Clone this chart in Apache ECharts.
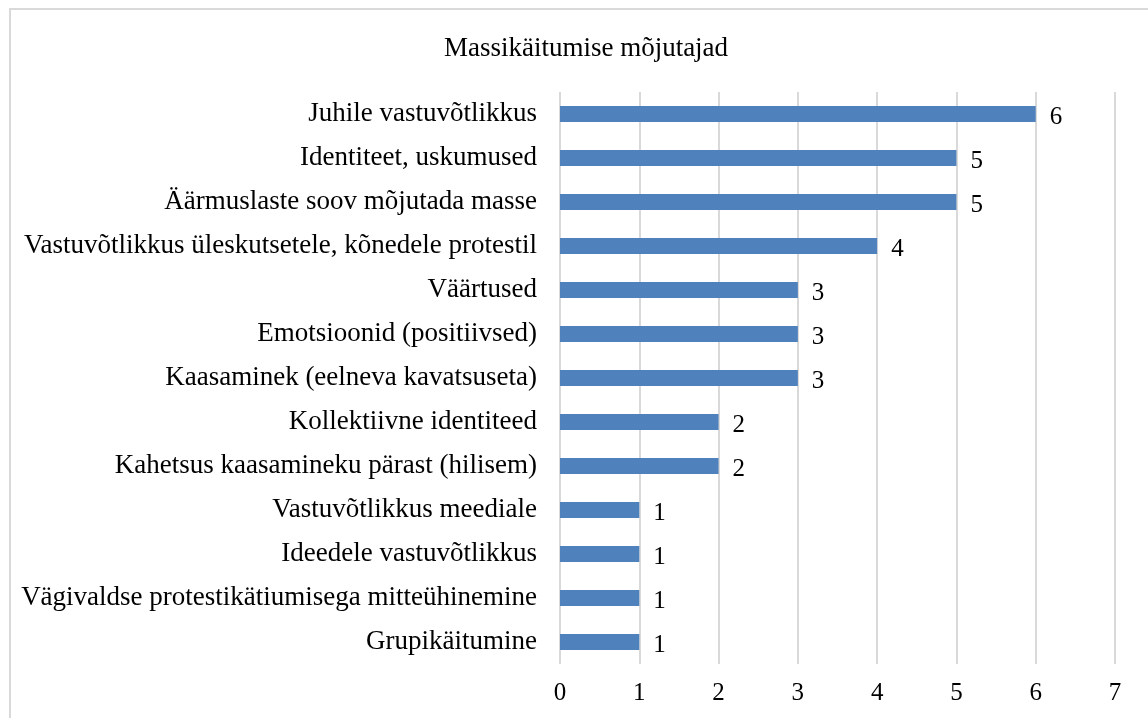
<!DOCTYPE html>
<html>
<head>
<meta charset="utf-8">
<script src="https://cdn.jsdelivr.net/npm/echarts@6/dist/echarts.min.js"></script>
<style>
  html, body { margin: 0; padding: 0; background: #fff; }
  #chart { width: 1148px; height: 718px; }
</style>
</head>
<body>
<div id="chart"></div>
<script>
var categories = [
  "Juhile vastuvõtlikkus",
  "Identiteet, uskumused",
  "Äärmuslaste soov mõjutada masse",
  "Vastuvõtlikkus üleskutsetele, kõnedele protestil",
  "Väärtused",
  "Emotsioonid (positiivsed)",
  "Kaasaminek (eelneva kavatsuseta)",
  "Kollektiivne identiteed",
  "Kahetsus kaasamineku pärast (hilisem)",
  "Vastuvõtlikkus meediale",
  "Ideedele vastuvõtlikkus",
  "Vägivaldse protestikätiumisega mitteühinemine",
  "Grupikäitumine"
];
var values = [6, 5, 5, 4, 3, 3, 3, 2, 2, 1, 1, 1, 1];

var font = "'Liberation Serif', 'Times New Roman', serif";

var myChart = echarts.init(document.getElementById("chart"));

var option = {
  backgroundColor: "#fff",
  animation: false,
  title: {
    text: "Massikäitumise mõjutajad",
    left: 581,
    top: 30,
    textAlign: "center",
    textStyle: { fontFamily: font, fontSize: 27, fontWeight: "normal", color: "#000" }
  },
  graphic: [
    {
      type: "rect",
      shape: { x: 10, y: 9, width: 1160, height: 740 },
      style: { fill: "none", stroke: "#d9d9d9", lineWidth: 2 }
    }
  ],
  grid: {
    left: 560,
    right: 33,
    top: 92,
    height: 572
  },
  xAxis: {
    type: "value",
    min: 0,
    max: 7,
    interval: 1,
    axisLine: { show: false },
    axisTick: { show: false },
    splitLine: { lineStyle: { color: "#d9d9d9", width: 2 } },
    axisLabel: { fontFamily: font, fontSize: 25, color: "#000", margin: 17 }
  },
  yAxis: {
    type: "category",
    inverse: true,
    data: categories,
    axisLine: { show: false },
    axisTick: { show: false },
    axisLabel: { fontFamily: font, fontSize: 27, color: "#000", margin: 23 }
  },
  series: [
    {
      type: "bar",
      data: values,
      barWidth: 16,
      itemStyle: { color: "#4f81bd" },
      label: {
        show: true,
        position: "right",
        distance: 14,
        offset: [0, 3],
        fontFamily: font,
        fontSize: 25,
        color: "#000"
      }
    }
  ]
};

myChart.setOption(option);
</script>
</body>
</html>
